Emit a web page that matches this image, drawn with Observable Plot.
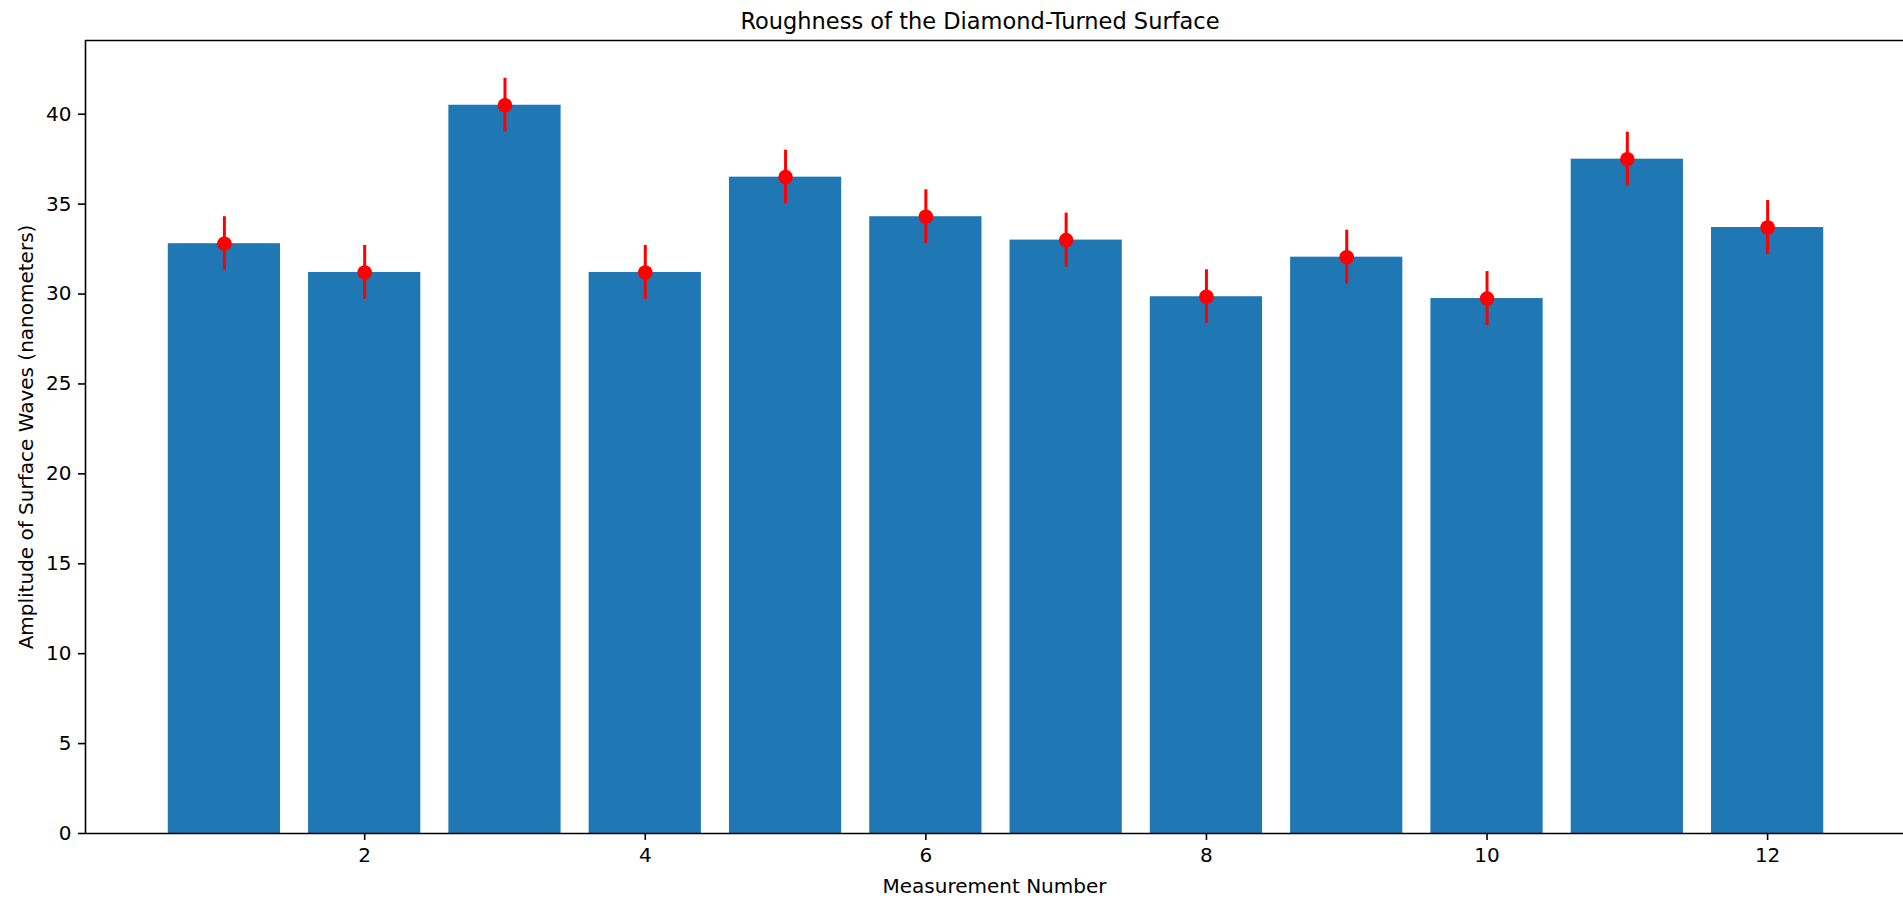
<!DOCTYPE html>
<html>
<head>
<meta charset="utf-8">
<script src="https://cdn.jsdelivr.net/npm/d3@7"></script>
<script src="https://cdn.jsdelivr.net/npm/@observablehq/plot@0.6"></script>
<style>
  html, body { margin: 0; padding: 0; background: #fff; overflow: hidden; }
  #chart svg { display: block; }
</style>
</head>
<body>
<div id="chart"></div>
<script>
// ---- data ----
const measurement = [1, 2, 3, 4, 5, 6, 7, 8, 9, 10, 11, 12];
const amplitude = [32.8, 31.2, 40.5, 31.2, 36.5, 34.3, 33.0, 29.85, 32.05, 29.75, 37.5, 33.7];
const errorSize = [1.5, 1.5, 1.5, 1.5, 1.5, 1.5, 1.5, 1.5, 1.5, 1.5, 1.5, 1.5];
const xTicks = [2, 4, 6, 8, 10, 12];
const yTicks = [0, 5, 10, 15, 20, 25, 30, 35, 40];
const titleText = "Roughness of the Diamond-Turned Surface";
const xLabelText = "Measurement Number";
const yLabelText = "Amplitude of Surface Waves (nanometers)";

const data = measurement.map((m, i) => ({x: m, v: amplitude[i], e: errorSize[i]}));

// axis limits as matplotlib would compute them (5% margins)
const xDomain = [0.01, 12.99];
const yDomain = [0, 44.1];

const font = "DejaVu Sans, sans-serif";

const chart = Plot.plot({
  width: 1903,
  height: 898,
  marginLeft: 85,
  marginRight: 0,
  marginTop: 40,
  marginBottom: 65,
  style: {fontFamily: font, fontSize: "20px", color: "#000", background: "#fff"},
  x: {type: "linear", domain: xDomain, range: [85, 1906]},
  y: {type: "linear", domain: yDomain},
  marks: [
    Plot.rect(data, {x1: d => d.x - 0.4, x2: d => d.x + 0.4, y1: 0, y2: "v", fill: "#1f77b4", inset: 0}),
    Plot.ruleX(data, {x: "x", y1: d => d.v - d.e, y2: d => d.v + d.e, stroke: "red", strokeWidth: 3}),
    Plot.dot(data, {x: "x", y: "v", r: 7.3, fill: "red", stroke: "none"}),
    Plot.ruleX([xDomain[0]], {y1: yDomain[0], y2: yDomain[1], stroke: "#000", strokeWidth: 1.6}),
    Plot.ruleY([yDomain[0], yDomain[1]], {x1: xDomain[0], x2: xDomain[1], stroke: "#000", strokeWidth: 1.6}),
    Plot.axisX({ticks: xTicks, tickSize: 7, tickPadding: 7, strokeWidth: 1.6, fontSize: 20, label: null, tickFormat: d => String(d)}),
    Plot.axisY({ticks: yTicks, tickSize: 7, tickPadding: 7, strokeWidth: 1.6, fontSize: 20, label: null, tickFormat: d => String(d)}),
    Plot.text([titleText], {frameAnchor: "top", dx: -14.5, dy: -12, lineAnchor: "bottom", text: d => d, fontSize: 22.5, fill: "#000"}),
    Plot.text([xLabelText], {frameAnchor: "bottom", dy: 59, lineAnchor: "bottom", text: d => d, fontSize: 20, fill: "#000"}),
    Plot.text([yLabelText], {frameAnchor: "left", dx: -53, rotate: -90, lineAnchor: "bottom", textAnchor: "middle", text: d => d, fontSize: 20, fill: "#000"})
  ]
});
document.getElementById("chart").appendChild(chart);
</script>
</body>
</html>
